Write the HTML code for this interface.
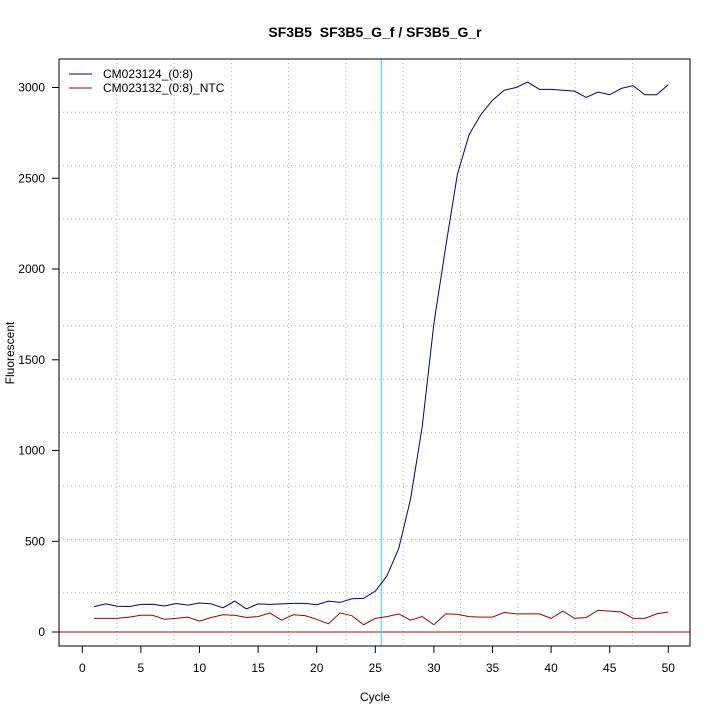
<!DOCTYPE html>
<html><head><style>body{margin:0;background:#fff}svg{display:block}text{font-family:"Liberation Sans",sans-serif;font-size:12px;fill:#000}</style></head>
<body>
<svg width="720" height="720" viewBox="0 0 720 720">
<rect width="720" height="720" fill="#fff"/>
<g stroke="#aaa" stroke-dasharray="1,3" stroke-width="1">
<line x1="116.7" y1="59" x2="116.7" y2="646"/><line x1="174" y1="59" x2="174" y2="646"/><line x1="231.3" y1="59" x2="231.3" y2="646"/><line x1="288.6" y1="59" x2="288.6" y2="646"/><line x1="345.9" y1="59" x2="345.9" y2="646"/><line x1="403.2" y1="59" x2="403.2" y2="646"/><line x1="460.5" y1="59" x2="460.5" y2="646"/><line x1="517.8" y1="59" x2="517.8" y2="646"/><line x1="575.1" y1="59" x2="575.1" y2="646"/><line x1="632.4" y1="59" x2="632.4" y2="646"/>
<line x1="59" y1="112.3" x2="690" y2="112.3"/><line x1="59" y1="165.7" x2="690" y2="165.7"/><line x1="59" y1="219.1" x2="690" y2="219.1"/><line x1="59" y1="272.5" x2="690" y2="272.5"/><line x1="59" y1="325.9" x2="690" y2="325.9"/><line x1="59" y1="379.3" x2="690" y2="379.3"/><line x1="59" y1="432.7" x2="690" y2="432.7"/><line x1="59" y1="486.1" x2="690" y2="486.1"/><line x1="59" y1="539.5" x2="690" y2="539.5"/><line x1="59" y1="592.9" x2="690" y2="592.9"/>
</g>
<line x1="59" y1="632" x2="690" y2="632" stroke="#c00000" stroke-width="1"/>
<line x1="381.3" y1="59" x2="381.3" y2="646" stroke="#40e8f0" stroke-width="1.2"/>
<g transform="matrix(11.72 0 0 -0.1815 82.3 632)" fill="none">
<polyline vector-effect="non-scaling-stroke" stroke="#00008b" stroke-width="1" points="1,140 2,155 3,142 4,140 5,152 6,153 7,143 8,157 9,148 10,160 11,155 12,133 13,170 14,127 15,155 16,152 17,155 18,158 19,158 20,150 21,170 22,163 23,183 24,185 25,225 26,310 27,460 28,730 29,1130 30,1700 31,2120 32,2520 33,2740 34,2850 35,2930 36,2985 37,3000 38,3030 39,2990 40,2990 41,2985 42,2980 43,2945 44,2975 45,2960 46,2995 47,3010 48,2960 49,2960 50,3015"/>
<polyline vector-effect="non-scaling-stroke" stroke="#a00000" stroke-width="1" points="1,75 2,75 3,75 4,82 5,92 6,92 7,70 8,75 9,82 10,60 11,80 12,95 13,92 14,80 15,85 16,105 17,65 18,95 19,90 20,70 21,45 22,105 23,90 24,40 25,75 26,85 27,100 28,65 29,85 30,40 31,100 32,98 33,85 34,82 35,82 36,108 37,100 38,100 39,100 40,75 41,115 42,75 43,80 44,120 45,115 46,110 47,75 48,75 49,100 50,110"/>
</g>
<rect x="59" y="59" width="631" height="587" fill="none" stroke="#000" stroke-width="1"/>
<g stroke="#000">
<line x1="82.3" y1="646" x2="82.3" y2="653"/><line x1="140.9" y1="646" x2="140.9" y2="653"/><line x1="199.5" y1="646" x2="199.5" y2="653"/><line x1="258.1" y1="646" x2="258.1" y2="653"/><line x1="316.7" y1="646" x2="316.7" y2="653"/><line x1="375.3" y1="646" x2="375.3" y2="653"/><line x1="433.9" y1="646" x2="433.9" y2="653"/><line x1="492.5" y1="646" x2="492.5" y2="653"/><line x1="551.1" y1="646" x2="551.1" y2="653"/><line x1="609.7" y1="646" x2="609.7" y2="653"/><line x1="668.3" y1="646" x2="668.3" y2="653"/>
<line x1="52" y1="632" x2="59" y2="632"/><line x1="52" y1="541.3" x2="59" y2="541.3"/><line x1="52" y1="450.5" x2="59" y2="450.5"/><line x1="52" y1="359.8" x2="59" y2="359.8"/><line x1="52" y1="269" x2="59" y2="269"/><line x1="52" y1="178.3" x2="59" y2="178.3"/><line x1="52" y1="87.5" x2="59" y2="87.5"/>
</g>
<g text-anchor="middle">
<text x="82.3" y="672">0</text><text x="140.9" y="672">5</text><text x="199.5" y="672">10</text><text x="258.1" y="672">15</text><text x="316.7" y="672">20</text><text x="375.3" y="672">25</text><text x="433.9" y="672">30</text><text x="492.5" y="672">35</text><text x="551.1" y="672">40</text><text x="609.7" y="672">45</text><text x="668.3" y="672">50</text>
</g>
<g text-anchor="end">
<text x="45" y="636">0</text><text x="45" y="545.3">500</text><text x="45" y="454.5">1000</text><text x="45" y="363.8">1500</text><text x="45" y="273">2000</text><text x="45" y="182.3">2500</text><text x="45" y="91.5">3000</text>
</g>
<text x="375" y="701" text-anchor="middle">Cycle</text>
<text transform="translate(14,353) rotate(-90)" text-anchor="middle">Fluorescent</text>
<text x="375" y="37" text-anchor="middle" style="font-weight:bold;font-size:14px">SF3B5&#160; SF3B5_G_f / SF3B5_G_r</text>
<line x1="69" y1="74" x2="92" y2="74" stroke="#00008b"/>
<line x1="69" y1="88" x2="92" y2="88" stroke="#a00000"/>
<text x="103" y="78">CM023124_(0:8)</text>
<text x="103" y="92">CM023132_(0:8)_NTC</text>
</svg>
</body></html>
